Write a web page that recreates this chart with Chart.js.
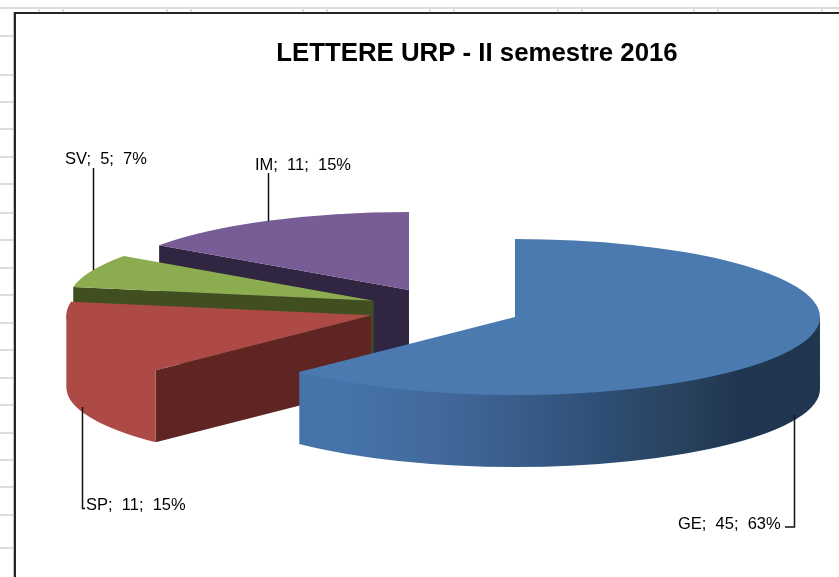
<!DOCTYPE html>
<html><head><meta charset="utf-8">
<style>html,body{margin:0;padding:0;background:#fff;overflow:hidden}canvas{display:block}</style>
<script src="https://cdn.jsdelivr.net/npm/chart.js@4"></script>
</head><body><canvas id="c" width="839" height="577"></canvas>
<script>
const categories = ['GE','SP','SV','IM'];
const values = [45,11,5,11];
const percents = [63,15,7,15];
const titleText = 'LETTERE URP - II semestre 2016';
const topColors = ['#4A7AB0','#AE4A45','#8CAC50','#775C96'];
const wallColors = ['#1F3550','#5E2523','#414F20','#312641'];
const geWallStops = [[299,'#4574AB'],[400,'#42699B'],[500,'#365A85'],[570,'#2E4D73'],[640,'#29435F'],[700,'#203650'],[820,'#1F3550']];
const spWallStops = [[67,'#A84B46'],[82,'#A94B46'],[84,'#AE4A45'],[160,'#AE4A45']];
const gridTopX = [38,62,166,190,302,326,429,453,557,581,693,717,821];
const gridLeftY = [35,74,101,128,156,183,212,239,267,294,322,349,377,404,432,459,486,514,547];
// label text positions and leader lines [x, baseline], [[x,y],...]
const labelPos = [[678,529],[86,510],[65,164],[255,170]];
const leaders = [
  [[794.5,415],[794.5,527],[785,527]],
  [[82.5,407],[82.5,508.5],[85,508.5]],
  [[93.5,168],[93.5,270]],
  [[268.5,173],[268.5,221]]
];
const CENTER = {x:444.3, y:308.8};
const SQUASH = 0.2557, EXPLODE_X = 76.5, EXPLODE_Y = 21.3, DEPTH = 72;

function wallGradient(ctx, stops){
  const x0 = stops[0][0], x1 = stops[stops.length-1][0];
  const g = ctx.createLinearGradient(x0,0,x1,0);
  stops.forEach(s => g.addColorStop((s[0]-x0)/(x1-x0), s[1]));
  return g;
}

const pie3d = {
  id:'pie3d',
  beforeDraw(chart){
    const ctx = chart.ctx;
    ctx.save();
    ctx.fillStyle = '#fff';
    ctx.fillRect(0,0,839,577);
    ctx.fillStyle = '#DCDCDC';
    ctx.fillRect(0,7,839,2);
    gridTopX.forEach(x => ctx.fillRect(x,9,2,3));
    gridLeftY.forEach(y => ctx.fillRect(0,y,14,2));
    ctx.fillStyle = '#BDBDBD';
    ctx.fillRect(13,12,1,565);
    ctx.fillStyle = '#262626';
    ctx.fillRect(14,12,825,2);
    ctx.fillRect(14,12,2,565);
    ctx.restore();
  },
  beforeDatasetDraw(chart, args){
    const ctx = chart.ctx;
    const arcs = args.meta.data;
    const order = [3,2,1,0];
    order.forEach(i => {
      const arc = arcs[i];
      const p = arc.getProps(['x','y','startAngle','endAngle','outerRadius'], true);
      const mid = (p.startAngle + p.endAngle)/2;
      const ox = CENTER.x + Math.cos(mid)*EXPLODE_X - p.x;
      const oy = CENTER.y + Math.sin(mid)*EXPLODE_Y - p.y*SQUASH;
      const d = DEPTH/SQUASH;
      ctx.save();
      ctx.setTransform(1,0,0,SQUASH,ox,oy);
      // side wall along the starting radius
      if (Math.sin(p.startAngle) > -0.99) {
        ctx.beginPath();
        ctx.moveTo(p.x,p.y);
        ctx.lineTo(p.x+Math.cos(p.startAngle)*p.outerRadius, p.y+Math.sin(p.startAngle)*p.outerRadius);
        ctx.lineTo(p.x+Math.cos(p.startAngle)*p.outerRadius, p.y+Math.sin(p.startAngle)*p.outerRadius+d);
        ctx.lineTo(p.x,p.y+d);
        ctx.closePath();
        ctx.fillStyle = wallColors[i];
        ctx.fill();
      }
      // curved rim: the part of the slice facing the viewer, extended under the
      // top face so that no darker slice shows through along the seam
      const a0 = Math.max(p.startAngle,0), a1 = Math.min(p.endAngle,Math.PI);
      if (a1 > a0) {
        const inner = p.outerRadius - 12;
        ctx.beginPath();
        ctx.arc(p.x,p.y,inner,a0,a1,false);
        ctx.lineTo(p.x+Math.cos(a1)*p.outerRadius, p.y+Math.sin(a1)*p.outerRadius);
        ctx.lineTo(p.x+Math.cos(a1)*p.outerRadius, p.y+Math.sin(a1)*p.outerRadius+d);
        ctx.arc(p.x,p.y+d,p.outerRadius,a1,a0,true);
        ctx.lineTo(p.x+Math.cos(a0)*p.outerRadius, p.y+Math.sin(a0)*p.outerRadius);
        ctx.closePath();
        ctx.fillStyle = i===0 ? wallGradient(ctx,geWallStops)
                      : i===1 ? wallGradient(ctx,spWallStops) : wallColors[i];
        ctx.fill();
      }
      // top face: the library's own arc element
      arc.draw(ctx);
      ctx.restore();
    });
    return false;
  },
  afterDraw(chart){
    const ctx = chart.ctx;
    ctx.save();
    ctx.strokeStyle = '#111';
    ctx.lineWidth = 1.5;
    leaders.forEach(l => {
      ctx.beginPath();
      l.forEach((q,j) => j ? ctx.lineTo(q[0],q[1]) : ctx.moveTo(q[0],q[1]));
      ctx.stroke();
    });
    ctx.fillStyle = '#000';
    ctx.font = '16.5px "Liberation Sans"';
    ctx.textBaseline = 'alphabetic';
    categories.forEach((c,i) => {
      ctx.fillText(c+';  '+values[i]+';  '+percents[i]+'%', labelPos[i][0], labelPos[i][1]);
    });
    ctx.restore();
  }
};

new Chart(document.getElementById('c'),{
  type:'pie',
  data:{labels:categories,datasets:[{data:values,backgroundColor:topColors,borderWidth:0}]},
  options:{
    responsive:false,
    animation:false,
    devicePixelRatio:1,
    radius:305,
    rotation:0,
    layout:{padding:{left:115,top:38,right:0,bottom:0}},
    plugins:{
      legend:{display:false},
      tooltip:{enabled:false},
      title:{display:true,text:titleText,color:'#000',font:{family:'"Liberation Sans"',size:25.8,weight:'bold'},padding:{top:0,bottom:0}}
    }
  },
  plugins:[pie3d]
});
</script></body></html>
